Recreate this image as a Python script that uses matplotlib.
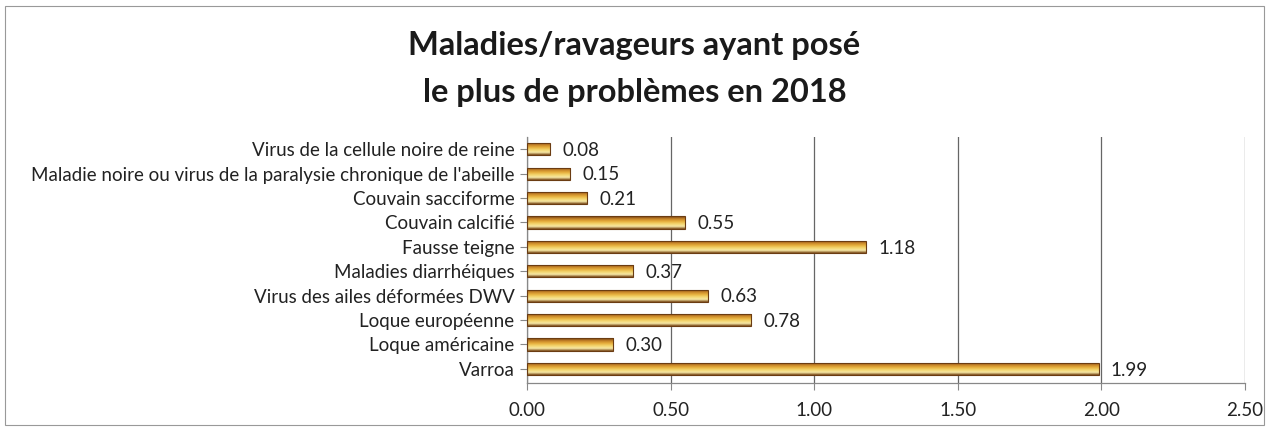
import numpy as np
import matplotlib.pyplot as plt
from matplotlib.colors import LinearSegmentedColormap
from matplotlib.patches import Rectangle

categories = [
    "Varroa",
    "Loque américaine",
    "Loque européenne",
    "Virus des ailes déformées DWV",
    "Maladies diarrhéiques",
    "Fausse teigne",
    "Couvain calcifié",
    "Couvain sacciforme",
    "Maladie noire ou virus de la paralysie chronique de l'abeille",
    "Virus de la cellule noire de reine",
]
values = [1.99, 0.30, 0.78, 0.63, 0.37, 1.18, 0.55, 0.21, 0.15, 0.08]
xticks = [0.0, 0.5, 1.0, 1.5, 2.0, 2.5]

plt.rcParams['font.family'] = ['Lato', 'DejaVu Sans']

fig = plt.figure(figsize=(12.69, 4.30), dpi=100)
ax = fig.add_axes([0.4153, 0.1093, 0.5658, 0.572])

# cylinder-like shading, top to bottom
gold = LinearSegmentedColormap.from_list(
    "gold", ["#7a4a1a", "#f7e8a6", "#f3d56e", "#e6ae3c", "#c27f26", "#6e3f14"])
grad = np.linspace(0, 1, 64).reshape(-1, 1)

h = 0.5
ypos = np.arange(len(categories))
for y, v in zip(ypos, values):
    rect = Rectangle((0, y - h / 2), v, h, facecolor="none",
                     edgecolor="#6b3c12", linewidth=0.8, zorder=3)
    ax.add_patch(rect)
    im = ax.imshow(grad, cmap=gold, aspect="auto", zorder=2,
                   extent=(0, v, y + h / 2, y - h / 2), interpolation="bilinear")
    im.set_clip_path(rect)
    ax.text(v + 0.042, y - 0.05, f"{v:.2f}", va="center", ha="left",
            fontsize=13.5, color="#222222")

ax.set_xlim(0, 2.5)
ax.set_ylim(-0.58, 9.5)
ax.set_yticks(ypos)
ax.set_yticklabels(categories, fontsize=13.5, color="#222222")
ax.set_xticks(xticks)
ax.set_xticklabels([f"{t:.2f}" for t in xticks], fontsize=13.5, color="#222222")
ax.tick_params(axis="y", length=5, width=0.8, color="#888888", pad=4)
ax.tick_params(axis="x", length=5, width=0.8, color="#888888", pad=9)
ax.xaxis.grid(True, color="#666666", linewidth=0.9)
ax.set_axisbelow(True)
for s in ["top", "right"]:
    ax.spines[s].set_visible(False)
for s in ["left", "bottom"]:
    ax.spines[s].set_color("#888888")
    ax.spines[s].set_linewidth(0.9)

fig.text(0.5, 0.895, "Maladies/ravageurs ayant posé", ha="center", va="center",
         fontsize=23.5, fontweight="bold", color="#1a1a1a")
fig.text(0.5, 0.785, "le plus de problèmes en 2018", ha="center", va="center",
         fontsize=23.5, fontweight="bold", color="#1a1a1a")

# outer chart frame
fig.patches.append(Rectangle((0.004, 0.012), 0.992, 0.975, transform=fig.transFigure,
                             fill=False, edgecolor="#999999", linewidth=0.8))

fig.savefig("out.png", dpi=100)
